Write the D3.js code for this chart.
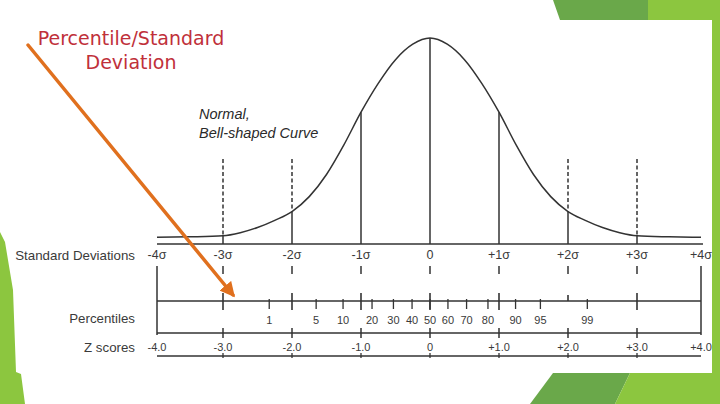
<!DOCTYPE html>
<html>
<head>
<meta charset="utf-8">
<script src="https://cdn.jsdelivr.net/npm/d3@7"></script>
<style>
  html, body { margin: 0; padding: 0; background: #ffffff; }
  svg { display: block; }
</style>
</head>
<body>
<svg id="chart" width="720" height="404"></svg>
<script>
// ---------- data ----------
const sigmaTicks = [-4, -3, -2, -1, 0, 1, 2, 3, 4];
const sigmaLabels = ["-4σ", "-3σ", "-2σ", "-1σ", "0", "+1σ", "+2σ", "+3σ", "+4σ"];
const zScoreLabels = ["-4.0", "-3.0", "-2.0", "-1.0", "0", "+1.0", "+2.0", "+3.0", "+4.0"];
const percentileLabels = ["1", "5", "10", "20", "30", "40", "50", "60", "70", "80", "90", "95", "99"];
const percentileZ = [-2.33, -1.65, -1.26, -0.84, -0.53, -0.26, 0, 0.26, 0.53, 0.84, 1.24, 1.6, 2.28];
const curveZ = [-4, -3.5, -3, -2.75, -2.5, -2.25, -2, -1.75, -1.5, -1.25, -1, -0.75, -0.5, -0.25, 0,
                0.25, 0.5, 0.75, 1, 1.25, 1.5, 1.75, 2, 2.25, 2.5, 2.75, 3, 3.5, 4];
const curveHeight = [0.013, 0.014, 0.016, 0.022, 0.032, 0.046, 0.063, 0.092, 0.135, 0.192, 0.256, 0.312, 0.358, 0.388, 0.400,
                     0.388, 0.358, 0.312, 0.256, 0.192, 0.135, 0.092, 0.063, 0.046, 0.032, 0.022, 0.016, 0.014, 0.013];
const solidGuides = [-1, 0, 1];
const dashedGuides = [-3, -2, 2, 3];
const dashTopHeight = 0.165;
const titleLines = ["Percentile/Standard", "Deviation"];
const noteLines = ["Normal,", "Bell-shaped Curve"];
const rowLabels = ["Standard Deviations", "Percentiles", "Z scores"];

// ---------- layout ----------
const svg = d3.select("#chart");
const ink = "#333333";
const textInk = "#3a3a3a";
const lime = "#8cc63f";
const darkGreen = "#6aa84a";

const x = d3.scaleLinear().domain([-4, -3, 3, 4]).range([157, 223, 637, 701]);
const y = d3.scaleLinear().domain([0, 0.4]).range([244, 38]);
const heightAt = z => curveHeight[curveZ.indexOf(z)];

// ---------- slide decorations ----------
const deco = svg.append("g");
deco.append("path").attr("d", "M553,0 L648,0 L648,20 L560,20 Z").attr("fill", darkGreen);
deco.append("path").attr("d", "M648,0 L720,0 L720,373 L712,373 L712,20 L648,20 Z").attr("fill", lime);
deco.append("path").attr("d", "M553,373 L630,373 L615,404 L530,404 Z").attr("fill", darkGreen);
deco.append("path").attr("d", "M630,373 L720,373 L720,404 L615,404 Z").attr("fill", lime);
deco.append("path").attr("d", "M0,232 L5,242 L13,290 L16,372 L21,374 L25,404 L0,404 Z").attr("fill", lime);

// ---------- curve ----------
const g = svg.append("g");
const pts = curveZ.map((z, i) => [z, curveHeight[i]]);
g.append("path")
  .datum(pts)
  .attr("fill", "none")
  .attr("stroke", ink)
  .attr("stroke-width", 1.5)
  .attr("d", d3.line().x(d => x(d[0])).y(d => y(d[1])).curve(d3.curveMonotoneX));

// baseline
g.append("line")
  .attr("x1", x(-4)).attr("x2", x(4) + 2)
  .attr("y1", y(0)).attr("y2", y(0))
  .attr("stroke", ink).attr("stroke-width", 1.5);

// solid guides under curve
g.selectAll(".solid").data(solidGuides).join("line")
  .attr("x1", d => x(d)).attr("x2", d => x(d))
  .attr("y1", d => y(heightAt(d))).attr("y2", y(0))
  .attr("stroke", ink).attr("stroke-width", 1.5);

// dashed guides above curve, solid below
g.selectAll(".dash").data(dashedGuides).join("line")
  .attr("x1", d => x(d)).attr("x2", d => x(d))
  .attr("y1", y(dashTopHeight)).attr("y2", d => y(heightAt(d)))
  .attr("stroke", ink).attr("stroke-width", 1.5)
  .attr("stroke-dasharray", "4,2.5");
g.selectAll(".dashBelow").data(dashedGuides).join("line")
  .attr("x1", d => x(d)).attr("x2", d => x(d))
  .attr("y1", d => y(heightAt(d))).attr("y2", y(0))
  .attr("stroke", ink).attr("stroke-width", 1.5);

// ---------- rows ----------
const font = "'Liberation Sans', Arial, sans-serif";
const rowY = { sd: 255, pct: 301, pctLabel: 320, z: 333, zLabel: 347, bottom: 356 };

// row labels
svg.selectAll(".rowlab").data(rowLabels).join("text")
  .attr("x", 135)
  .attr("y", (d, i) => [rowY.sd, rowY.pctLabel - 2, rowY.zLabel][i])
  .attr("dy", "0.35em")
  .attr("text-anchor", "end")
  .attr("font-family", font).attr("font-size", 13.3)
  .attr("fill", textInk)
  .text(d => d);

// sigma labels
svg.selectAll(".sdlab").data(sigmaTicks).join("text")
  .attr("x", d => x(d))
  .attr("y", rowY.sd).attr("dy", "0.35em")
  .attr("text-anchor", "middle")
  .attr("font-family", font).attr("font-size", 12.5)
  .attr("fill", textInk)
  .text((d, i) => sigmaLabels[i]);

// short ticks under sigma labels
svg.selectAll(".sdtick").data(sigmaTicks.filter(d => Math.abs(d) < 4)).join("line")
  .attr("x1", d => x(d)).attr("x2", d => x(d))
  .attr("y1", 266).attr("y2", 274)
  .attr("stroke", ink).attr("stroke-width", 1.5);

// end verticals
svg.selectAll(".endv").data([-4, 4]).join("line")
  .attr("x1", d => x(d)).attr("x2", d => x(d))
  .attr("y1", 266).attr("y2", rowY.z + 2)
  .attr("stroke", ink).attr("stroke-width", 1.5);

// horizontal rows
svg.selectAll(".hrow").data([rowY.pct, rowY.z, rowY.bottom]).join("line")
  .attr("x1", x(-4)).attr("x2", x(4))
  .attr("y1", d => d).attr("y2", d => d)
  .attr("stroke", ink).attr("stroke-width", 1.5);

// sigma ticks on percentile row
svg.selectAll(".pcsig").data(sigmaTicks.filter(d => Math.abs(d) < 4)).join("line")
  .attr("x1", d => x(d)).attr("x2", d => x(d))
  .attr("y1", d => d === 2 ? rowY.pct - 6 : rowY.pct - 8)
  .attr("y2", d => d === 2 ? rowY.pct : rowY.pct + 9)
  .attr("stroke", ink).attr("stroke-width", 1.6);

// percentile ticks and labels
svg.selectAll(".pctick").data(percentileZ).join("line")
  .attr("x1", d => x(d)).attr("x2", d => x(d))
  .attr("y1", rowY.pct - 2).attr("y2", rowY.pct + 8)
  .attr("stroke", ink).attr("stroke-width", 1.3);
svg.selectAll(".pclab").data(percentileZ).join("text")
  .attr("x", d => x(d))
  .attr("y", rowY.pctLabel).attr("dy", "0.35em")
  .attr("text-anchor", "middle")
  .attr("font-family", font).attr("font-size", 11)
  .attr("fill", textInk)
  .text((d, i) => percentileLabels[i]);

// z-score ticks and labels
svg.selectAll(".ztick").data(sigmaTicks.filter(d => Math.abs(d) < 4)).join("line")
  .attr("x1", d => x(d)).attr("x2", d => x(d))
  .attr("y1", rowY.z - 5).attr("y2", rowY.z + 5)
  .attr("stroke", ink).attr("stroke-width", 1.5);
svg.selectAll(".zlab").data(sigmaTicks).join("text")
  .attr("x", d => x(d))
  .attr("y", rowY.zLabel).attr("dy", "0.35em")
  .attr("text-anchor", "middle")
  .attr("font-family", font).attr("font-size", 11)
  .attr("fill", textInk)
  .text((d, i) => zScoreLabels[i]);
svg.selectAll(".btick").data(sigmaTicks.filter(d => Math.abs(d) < 4)).join("line")
  .attr("x1", d => x(d)).attr("x2", d => x(d))
  .attr("y1", rowY.bottom - 3).attr("y2", rowY.bottom + 2)
  .attr("stroke", ink).attr("stroke-width", 1.3);

// ---------- annotation text ----------
svg.selectAll(".note").data(noteLines).join("text")
  .attr("x", 199)
  .attr("y", (d, i) => 119 + i * 19)
  .attr("font-family", font).attr("font-style", "italic").attr("font-size", 14.5)
  .attr("fill", "#2a2a2a")
  .text(d => d);

svg.selectAll(".title").data(titleLines).join("text")
  .attr("x", 131)
  .attr("y", (d, i) => 45 + i * 24)
  .attr("text-anchor", "middle")
  .attr("font-family", "'DejaVu Sans', Verdana, sans-serif").attr("font-size", 19)
  .attr("fill", "#c0303a")
  .text(d => d);

// ---------- arrow ----------
const arrowColor = "#e0701e";
svg.append("defs").append("marker")
  .attr("id", "ah").attr("viewBox", "0 0 10 10")
  .attr("refX", 8).attr("refY", 5)
  .attr("markerWidth", 4.3).attr("markerHeight", 4.3)
  .attr("orient", "auto")
  .append("path").attr("d", "M0,0 L10,5 L0,10 Z").attr("fill", arrowColor);
svg.append("line")
  .attr("x1", 28).attr("y1", 45).attr("x2", 233).attr("y2", 295)
  .attr("stroke", arrowColor).attr("stroke-width", 3.5)
  .attr("stroke-linecap", "round")
  .attr("marker-end", "url(#ah)");
</script>
</body>
</html>
